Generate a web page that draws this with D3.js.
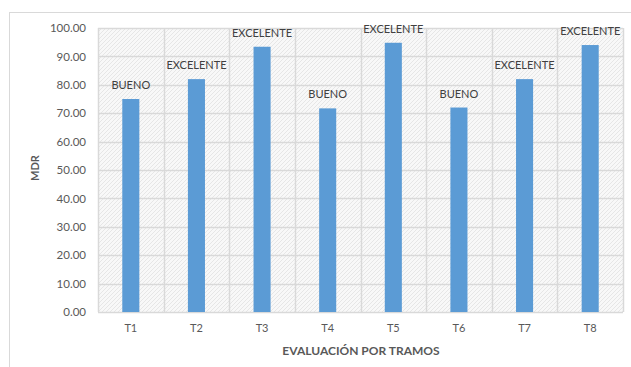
<!DOCTYPE html>
<html>
<head>
<meta charset="utf-8">
<script src="https://cdn.jsdelivr.net/npm/d3@7"></script>
<style>
  html, body { margin: 0; padding: 0; background: #ffffff; }
  svg { display: block; font-family: Lato, "Open Sans", sans-serif; }
</style>
</head>
<body>
<svg id="chart" width="631" height="367"></svg>
<script>
// Tramos evaluados y su valor MDR con la calificación correspondiente
const categories = ["T1", "T2", "T3", "T4", "T5", "T6", "T7", "T8"];
const mdrValues = [75.0, 82.0, 93.4, 71.7, 94.8, 72.0, 82.0, 94.0];
const ratings = ["BUENO", "EXCELENTE", "EXCELENTE", "BUENO", "EXCELENTE", "BUENO", "EXCELENTE", "EXCELENTE"];
const yTicks = [0, 10, 20, 30, 40, 50, 60, 70, 80, 90, 100];

const svg = d3.select("#chart");
const W = 631, H = 367;
const margin = { left: 98, right: 8, top: 28, bottom: 55 };
const plotW = W - margin.left - margin.right;
const plotH = H - margin.top - margin.bottom;

// Outer chart frame
svg.append("rect")
  .attr("x", 9.5).attr("y", 12.5)
  .attr("width", 640).attr("height", 400)
  .attr("fill", "#ffffff")
  .attr("stroke", "#d9d9d9");

// Diagonal hatch used as plot background
const defs = svg.append("defs");
const pat = defs.append("pattern")
  .attr("id", "hatch")
  .attr("patternUnits", "userSpaceOnUse")
  .attr("width", 4).attr("height", 4);
pat.append("rect").attr("width", 4).attr("height", 4).attr("fill", "#f8f8f8");
pat.append("path")
  .attr("d", "M-1,1 l2,-2 M0,4 l4,-4 M3,5 l2,-2")
  .attr("stroke", "#e6e6e6")
  .attr("stroke-width", 1);

const g = svg.append("g").attr("transform", `translate(${margin.left},${margin.top})`);

const x = d3.scaleBand().domain(categories).range([0, plotW]).paddingInner(0).paddingOuter(0);
const y = d3.scaleLinear().domain([0, 100]).range([plotH, 0]);

g.append("rect")
  .attr("width", plotW).attr("height", plotH)
  .attr("fill", "url(#hatch)");

// Horizontal gridlines
g.append("g")
  .selectAll("line")
  .data(yTicks)
  .join("line")
  .attr("x1", 0).attr("x2", plotW)
  .attr("y1", d => Math.round(y(d)) + 0.5)
  .attr("y2", d => Math.round(y(d)) + 0.5)
  .attr("stroke", "#d9d9d9")
  .attr("stroke-width", 1.5);

// Vertical gridlines at category boundaries
const bounds = categories.map(c => x(c)).concat([plotW]);
g.append("g")
  .selectAll("line")
  .data(bounds)
  .join("line")
  .attr("x1", d => Math.round(d) + 0.5).attr("x2", d => Math.round(d) + 0.5)
  .attr("y1", 0).attr("y2", plotH)
  .attr("stroke", "#d9d9d9")
  .attr("stroke-width", 1.5);

// Bars
const barW = x.bandwidth() * 0.26;
g.append("g")
  .selectAll("rect")
  .data(categories)
  .join("rect")
  .attr("x", (d) => x(d) + (x.bandwidth() - barW) / 2)
  .attr("y", (d, i) => y(mdrValues[i]))
  .attr("width", barW)
  .attr("height", (d, i) => plotH - y(mdrValues[i]))
  .attr("fill", "#5b9bd5");

// Rating labels above the bars
g.append("g")
  .selectAll("text")
  .data(categories)
  .join("text")
  .attr("x", d => x(d) + x.bandwidth() / 2)
  .attr("y", (d, i) => y(mdrValues[i]) - 10)
  .attr("text-anchor", "middle")
  .attr("font-size", 11)
  .attr("fill", "#404040")
  .text((d, i) => ratings[i]);

// Y axis
const yAxis = d3.axisLeft(y).tickValues(yTicks).tickFormat(d3.format(".2f")).tickSize(0).tickPadding(12);
g.append("g").call(yAxis)
  .call(s => s.select(".domain").remove())
  .selectAll("text")
  .attr("font-size", 11.5)
  .attr("font-family", "Lato, sans-serif")
  .attr("fill", "#595959");

// X axis
const xAxis = d3.axisBottom(x).tickSize(0).tickPadding(12);
g.append("g").attr("transform", `translate(0,${plotH})`).call(xAxis)
  .call(s => s.select(".domain").remove())
  .selectAll("text")
  .attr("font-size", 11)
  .attr("font-family", "Lato, sans-serif")
  .attr("fill", "#595959");

// Axis titles
svg.append("text")
  .attr("transform", `translate(39,168) rotate(-90)`)
  .attr("text-anchor", "middle")
  .attr("font-size", 11)
  .attr("font-weight", "bold")
  .attr("fill", "#595959")
  .text("MDR");

svg.append("text")
  .attr("x", 361)
  .attr("y", 355)
  .attr("text-anchor", "middle")
  .attr("font-size", 12)
  .attr("font-weight", "bold")
  .attr("fill", "#595959")
  .text("EVALUACIÓN POR TRAMOS");
</script>
</body>
</html>
